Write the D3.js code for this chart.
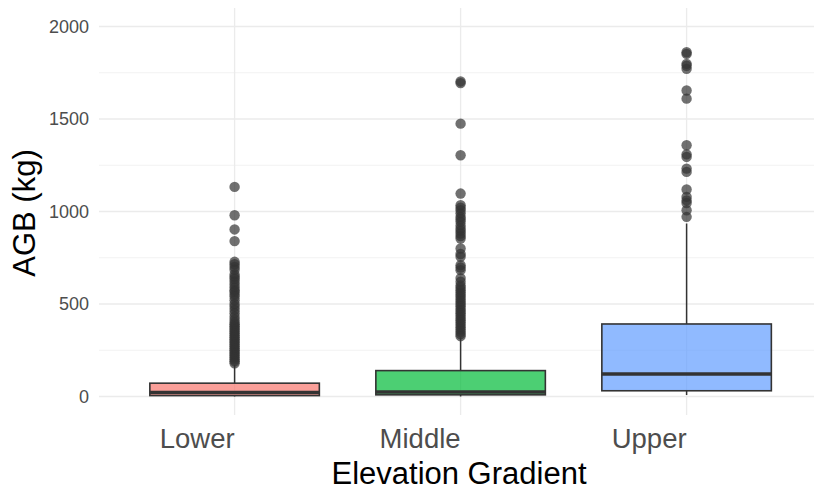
<body style="margin:0">
<script src="https://d3js.org/d3.v7.min.js"></script>
<script>

// categories and box stats [min, q1, median, q3, max]
var categories = ["Lower", "Middle", "Upper"];
var boxStats = [
  [0, 5, 22, 72, 170],
  [0, 9, 25, 140, 320],
  [8, 31, 122, 392, 935]
];
var outliersLower = [1133, 980, 903, 840, 728, 715, 700, 685, 660, 647, 635, 620, 605, 590, 575, 566, 552, 539, 520, 500, 485, 468, 450, 431, 415,
  400, 390, 380, 370, 360, 350, 340, 330, 320, 310, 300, 290, 280, 270, 260, 250, 240, 230, 220, 210, 200, 190, 180];
var outliersMiddle = [1703, 1694, 1475, 1304, 1097, 1034, 1020, 1007, 990, 971, 958, 944, 925, 908, 895, 881, 867, 854, 800, 770, 755, 710, 697, 683, 640, 620,
  600, 588, 575, 562, 550, 538, 525, 512, 500, 488, 475, 462, 450, 438, 425, 412, 400, 388, 375, 362, 350, 338, 326];
var outliersUpper = [1861, 1852, 1798, 1788, 1771, 1654, 1610, 1358, 1309, 1295, 1232, 1214, 1119, 1079, 1060, 1046, 1007, 971];
var outliers = [outliersLower, outliersMiddle, outliersUpper];
var fills = ["#F8766D", "#00BA38", "#619CFF"];
var yTicks = [0, 500, 1000, 1500, 2000];
var yMinor = [250, 750, 1250, 1750];

// note: "top" is taken by window.top, so panel edges get their own names
var width = 814, height = 490,
    panelLeft = 99, panelTop = 8, panelBottom = 415;

var svg = d3.select("body").append("svg")
    .attr("width", width).attr("height", height)
    .style("display", "block")
    .style("font-family", "'Liberation Sans', Arial, sans-serif");

// ggplot style discrete axis: positions 1..3, limits 0.4..3.6
var x = d3.scaleLinear().domain([0.4, 3.6]).range([panelLeft, panelLeft + 3.2 * 226]);
var y = d3.scaleLinear().domain([-100, 2100]).range([panelBottom, panelTop]);
var boxW = 0.75;

svg.append("clipPath").attr("id", "panel")
  .append("rect").attr("x", panelLeft).attr("y", panelTop)
    .attr("width", width - panelLeft).attr("height", panelBottom - panelTop);

var panel = svg.append("g").attr("clip-path", "url(#panel)");

// grid
panel.selectAll(".minor").data(yMinor).enter().append("line")
    .attr("x1", panelLeft).attr("x2", width)
    .attr("y1", d => y(d)).attr("y2", d => y(d))
    .attr("stroke", "#f2f2f2").attr("stroke-width", 1);
panel.selectAll(".major").data(yTicks).enter().append("line")
    .attr("x1", panelLeft).attr("x2", width)
    .attr("y1", d => y(d)).attr("y2", d => y(d))
    .attr("stroke", "#ebebeb").attr("stroke-width", 1.3);
panel.selectAll(".vgrid").data(categories).enter().append("line")
    .attr("x1", (d, i) => x(i + 1)).attr("x2", (d, i) => x(i + 1))
    .attr("y1", panelTop).attr("y2", panelBottom)
    .attr("stroke", "#ebebeb").attr("stroke-width", 1.3);

// boxes
categories.forEach(function(c, i) {
  var s = boxStats[i], cx = x(i + 1),
      x0 = x(i + 1 - boxW / 2), x1 = x(i + 1 + boxW / 2);
  var g = panel.append("g");

  g.selectAll("circle").data(outliers[i]).enter().append("circle")
      .attr("cx", cx).attr("cy", d => y(d)).attr("r", 5.2)
      .attr("fill", "#333333").attr("fill-opacity", 0.7);

  g.append("line").attr("x1", cx).attr("x2", cx)
      .attr("y1", y(s[3])).attr("y2", y(s[4]))
      .attr("stroke", "#333333").attr("stroke-width", 1.5);
  g.append("line").attr("x1", cx).attr("x2", cx)
      .attr("y1", y(s[1])).attr("y2", y(s[0]))
      .attr("stroke", "#333333").attr("stroke-width", 1.5);

  g.append("rect")
      .attr("x", x0).attr("width", x1 - x0)
      .attr("y", y(s[3])).attr("height", y(s[1]) - y(s[3]))
      .attr("fill", fills[i]).attr("fill-opacity", 0.7)
      .attr("stroke", "#333333").attr("stroke-width", 1.6);
  g.append("line").attr("x1", x0).attr("x2", x1)
      .attr("y1", y(s[2])).attr("y2", y(s[2]))
      .attr("stroke", "#333333").attr("stroke-width", 3.5);
});

// tick labels
svg.selectAll(".ylab").data(yTicks).enter().append("text")
    .attr("x", 89).attr("y", d => y(d)).attr("dy", "0.35em")
    .attr("text-anchor", "end")
    .attr("font-size", 18).attr("fill", "#4d4d4d")
    .text(d => d);

svg.selectAll(".xlab").data(categories).enter().append("text")
    .attr("x", (d, i) => x(i + 1)).attr("y", 448)
    .attr("text-anchor", "end")
    .attr("font-size", 27.5).attr("fill", "#4d4d4d")
    .text(d => d);

// axis titles
svg.append("text")
    .attr("x", 459).attr("y", 484)
    .attr("text-anchor", "middle")
    .attr("font-size", 31).attr("fill", "#000")
    .text("Elevation Gradient");

svg.append("text")
    .attr("transform", "translate(35,213) rotate(-90)")
    .attr("text-anchor", "middle")
    .attr("font-size", 31).attr("fill", "#000")
    .text("AGB (kg)");

</script>
</body>
